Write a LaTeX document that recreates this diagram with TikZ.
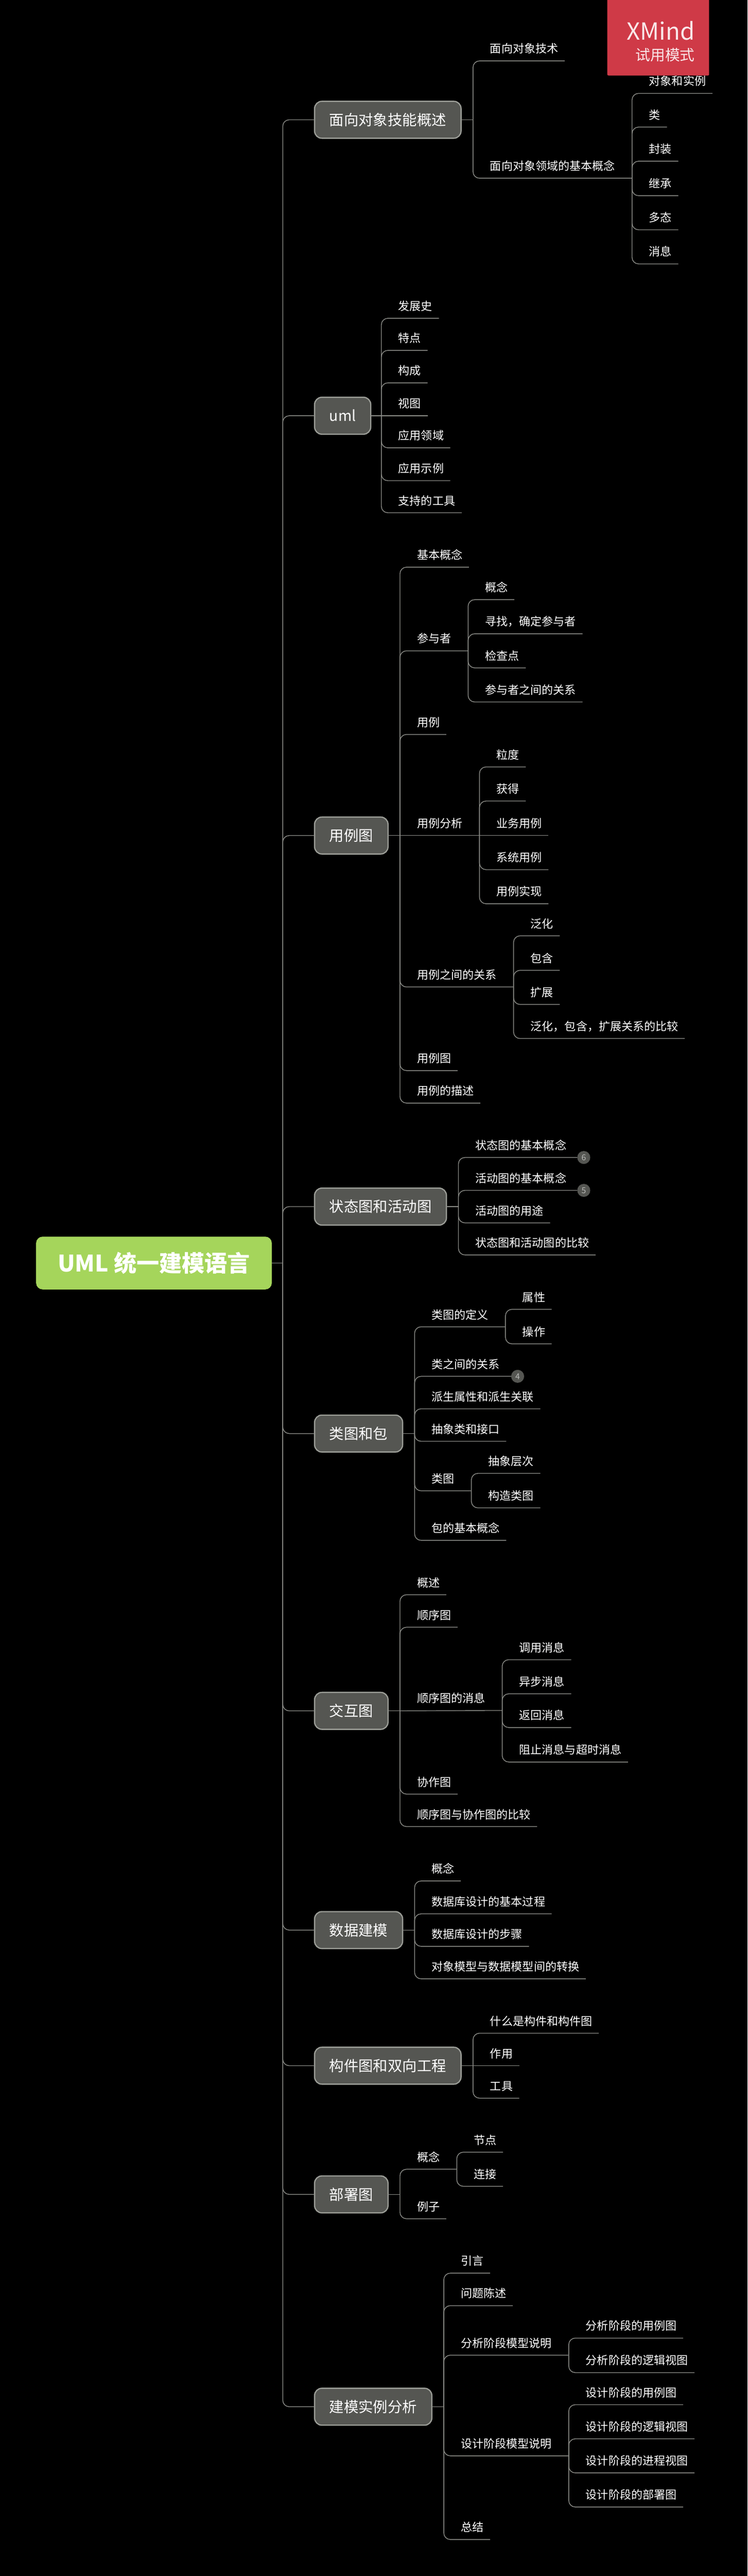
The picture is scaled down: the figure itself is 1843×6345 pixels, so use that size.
\documentclass[tikz,border=0pt]{standalone}
\usepackage{fontspec}
\setmainfont{Noto Sans CJK SC}
\definecolor{canvasbg}{HTML}{000000}
\definecolor{mainfill}{HTML}{555652}
\definecolor{mainedge}{HTML}{9C9E98}
\definecolor{rootfill}{HTML}{A5D55B}
\definecolor{linkgray}{HTML}{8C8D88}
\definecolor{trialred}{HTML}{CF3A47}
\begin{document}
\begin{tikzpicture}[
    x=1pt, y=-1pt,
    rootnode/.style={rectangle, fill=rootfill, draw=none, rounded corners=16pt, anchor=west, minimum width=581pt, minimum height=130pt, outer sep=0pt, text=white, font=\fontsize{56}{60}\selectfont\bfseries, text height=49.3pt, text depth=6.7pt},
    mainnode/.style={rectangle, fill=mainfill, draw=mainedge, line width=3pt, rounded corners=18pt, anchor=west, minimum height=91pt, inner xsep=36.5pt, outer sep=0pt, text=white, font=\fontsize{36}{40}\selectfont, text height=31.7pt, text depth=4.3pt},
    leafnode/.style={rectangle, anchor=south west, inner xsep=16pt, inner ysep=16pt, outer sep=0pt, text=white, font=\fontsize{28}{32}\selectfont, text height=24.6pt, text depth=3.4pt},
    countdot/.style={circle, fill=mainfill, minimum size=32pt, inner sep=0pt, outer sep=0pt, text=linkgray!60!white, font=\fontsize{20}{22}\selectfont},
    link/.style={draw=linkgray, line width=1.8pt, rounded corners=16pt},
    trialtext/.style={anchor=east, inner sep=0pt, text=white!88!trialred}
]
\path[fill=canvasbg, use as bounding box] (0,0) rectangle (1843,6345);

% Root and main branches
\node[rootnode] (root) at (89,3111) {UML 统一建模语言};
\node[mainnode] (oo) at (775.5,295) {面向对象技能概述};
\node[mainnode] (uml) at (775.5,1024) {uml};
\node[mainnode] (usecase) at (775.5,2058) {用例图};
\node[mainnode] (state) at (775.5,2972) {状态图和活动图};
\node[mainnode] (class) at (775.5,3531) {类图和包};
\node[mainnode] (inter) at (775.5,4214) {交互图};
\node[mainnode] (data) at (775.5,4754) {数据建模};
\node[mainnode] (comp) at (775.5,5088) {构件图和双向工程};
\node[mainnode] (deploy) at (775.5,5405) {部署图};
\node[mainnode] (case) at (775.5,5928) {建模实例分析};

% Fork points
\coordinate (ftrunk) at (697,3111);
\coordinate (foo) at (1166,295);
\coordinate (fconcept) at (1558,439);
\coordinate (fuml) at (940,1024);
\coordinate (fusecase) at (986,2058);
\coordinate (factor) at (1154,1603);
\coordinate (fanalysis) at (1182,2058);
\coordinate (frel) at (1266,2431);
\coordinate (fstate) at (1130,2972);
\coordinate (fclass) at (1022,3531);
\coordinate (fdef) at (1246,3268);
\coordinate (fdiagram) at (1162,3672);
\coordinate (finter) at (986,4214);
\coordinate (fmsg) at (1238,4213);
\coordinate (fdata) at (1022,4754);
\coordinate (fcomp) at (1166,5088);
\coordinate (fdeploy) at (986,5405);
\coordinate (fdepconcept) at (1126,5343);
\coordinate (fcase) at (1094,5928);
\coordinate (fana) at (1402,5801);
\coordinate (fdes) at (1402,6049);

% Object oriented overview
\node[leafnode] (ootech) at (1192,150) {面向对象技术};
\node[leafnode] (ooconcept) at (1192,439) {面向对象领域的基本概念};
\node[leafnode] (ooinstance) at (1584,230) {对象和实例};
\node[leafnode] (ooclass) at (1584,313) {类};
\node[leafnode] (oowrap) at (1584,397) {封装};
\node[leafnode] (ooinherit) at (1584,482) {继承};
\node[leafnode] (oopoly) at (1584,566) {多态};
\node[leafnode] (oomsg) at (1584,650) {消息};

% UML
\node[leafnode] (umlhist) at (966,784) {发展史};
\node[leafnode] (umlfeat) at (966,863) {特点};
\node[leafnode] (umlparts) at (966,943) {构成};
\node[leafnode] (umlview) at (966,1024) {视图};
\node[leafnode] (umlfield) at (966,1103) {应用领域};
\node[leafnode] (umlsample) at (966,1184) {应用示例};
\node[leafnode] (umltool) at (966,1263) {支持的工具};

% Use case diagram
\node[leafnode] (ucbasic) at (1012,1397) {基本概念};
\node[leafnode] (ucactor) at (1012,1603) {参与者};
\node[leafnode] (uccase) at (1012,1809) {用例};
\node[leafnode] (ucanalysis) at (1012,2058) {用例分析};
\node[leafnode] (ucrel) at (1012,2431) {用例之间的关系};
\node[leafnode] (ucdiagram) at (1012,2637) {用例图};
\node[leafnode] (ucdesc) at (1012,2717) {用例的描述};
\node[leafnode] (acconcept) at (1180,1477) {概念};
\node[leafnode] (acfind) at (1180,1561) {寻找，确定参与者};
\node[leafnode] (accheck) at (1180,1645) {检查点};
\node[leafnode] (acrel) at (1180,1729) {参与者之间的关系};
\node[leafnode] (angrain) at (1208,1889) {粒度};
\node[leafnode] (anget) at (1208,1973) {获得};
\node[leafnode] (anbiz) at (1208,2058) {业务用例};
\node[leafnode] (ansys) at (1208,2142) {系统用例};
\node[leafnode] (anreal) at (1208,2226) {用例实现};
\node[leafnode] (relgen) at (1292,2305) {泛化};
\node[leafnode] (relinc) at (1292,2390) {包含};
\node[leafnode] (relext) at (1292,2474) {扩展};
\node[leafnode] (relcmp) at (1292,2558) {泛化，包含，扩展关系的比较};

% State and activity diagrams
\node[leafnode] (stbasic) at (1156,2851) {状态图的基本概念};
\node[leafnode] (acbasic) at (1156,2932) {活动图的基本概念};
\node[leafnode] (acuse) at (1156,3012) {活动图的用途};
\node[leafnode] (stcmp) at (1156,3091) {状态图和活动图的比较};
\node[countdot] (dotsix) at (1439,2851) {6};
\node[countdot] (dotfive) at (1439,2932) {5};

% Class diagram and package
\node[leafnode] (cldef) at (1048,3268) {类图的定义};
\node[leafnode] (clrel) at (1048,3390) {类之间的关系};
\node[leafnode] (clderive) at (1048,3470) {派生属性和派生关联};
\node[leafnode] (clabs) at (1048,3550) {抽象类和接口};
\node[leafnode] (cldiagram) at (1048,3672) {类图};
\node[leafnode] (clpack) at (1048,3794) {包的基本概念};
\node[leafnode] (defattr) at (1272,3225) {属性};
\node[leafnode] (defop) at (1272,3310) {操作};
\node[leafnode] (dilevel) at (1188,3629) {抽象层次};
\node[leafnode] (dibuild) at (1188,3714) {构造类图};
\node[countdot] (dotfour) at (1276,3390) {4};

% Interaction diagram
\node[leafnode] (inover) at (1012,3928) {概述};
\node[leafnode] (inseq) at (1012,4008) {顺序图};
\node[leafnode] (inmsg) at (1012,4213) {顺序图的消息};
\node[leafnode] (incol) at (1012,4419) {协作图};
\node[leafnode] (incmp) at (1012,4499) {顺序图与协作图的比较};
\node[leafnode] (msgcall) at (1264,4088) {调用消息};
\node[leafnode] (msgasync) at (1264,4172) {异步消息};
\node[leafnode] (msgret) at (1264,4255) {返回消息};
\node[leafnode] (msgstop) at (1264,4340) {阻止消息与超时消息};

% Data modelling
\node[leafnode] (daconcept) at (1048,4633) {概念};
\node[leafnode] (daproc) at (1048,4714) {数据库设计的基本过程};
\node[leafnode] (dastep) at (1048,4794) {数据库设计的步骤};
\node[leafnode] (daconv) at (1048,4874) {对象模型与数据模型间的转换};

% Component diagram
\node[leafnode] (cowhat) at (1192,5008) {什么是构件和构件图};
\node[leafnode] (couse) at (1192,5088) {作用};
\node[leafnode] (cotool) at (1192,5168) {工具};

% Deployment diagram
\node[leafnode] (deconcept) at (1012,5343) {概念};
\node[leafnode] (desample) at (1012,5465) {例子};
\node[leafnode] (denode) at (1152,5301) {节点};
\node[leafnode] (delink) at (1152,5385) {连接};

% Case study
\node[leafnode] (caintro) at (1120,5599) {引言};
\node[leafnode] (caprob) at (1120,5679) {问题陈述};
\node[leafnode] (caana) at (1120,5801) {分析阶段模型说明};
\node[leafnode] (cades) at (1120,6049) {设计阶段模型说明};
\node[leafnode] (casum) at (1120,6255) {总结};
\node[leafnode] (anauc) at (1428,5759) {分析阶段的用例图};
\node[leafnode] (analog) at (1428,5844) {分析阶段的逻辑视图};
\node[leafnode] (desuc) at (1428,5923) {设计阶段的用例图};
\node[leafnode] (deslog) at (1428,6007) {设计阶段的逻辑视图};
\node[leafnode] (desproc) at (1428,6091) {设计阶段的进程视图};
\node[leafnode] (desdep) at (1428,6175) {设计阶段的部署图};

% Trunk
\draw[link] (root.east) -- (ftrunk);
\draw[link] (ftrunk) |- (oo.west);
\draw[link] (ftrunk) |- (uml.west);
\draw[link] (ftrunk) |- (usecase.west);
\draw[link] (ftrunk) |- (state.west);
\draw[link] (ftrunk) |- (class.west);
\draw[link] (ftrunk) |- (inter.west);
\draw[link] (ftrunk) |- (data.west);
\draw[link] (ftrunk) |- (comp.west);
\draw[link] (ftrunk) |- (deploy.west);
\draw[link] (ftrunk) |- (case.west);

% Links of the branches
\draw[link] (oo.east) -- (foo);
\draw[link] (foo) |- (ootech.south east);
\draw[link] (foo) |- (ooconcept.south east) -- (fconcept);
\draw[link] (fconcept) |- (ooinstance.south east);
\draw[link] (fconcept) |- (ooclass.south east);
\draw[link] (fconcept) |- (oowrap.south east);
\draw[link] (fconcept) |- (ooinherit.south east);
\draw[link] (fconcept) |- (oopoly.south east);
\draw[link] (fconcept) |- (oomsg.south east);

\draw[link] (uml.east) -- (fuml);
\draw[link] (fuml) |- (umlhist.south east);
\draw[link] (fuml) |- (umlfeat.south east);
\draw[link] (fuml) |- (umlparts.south east);
\draw[link] (fuml) -- (umlview.south east);
\draw[link] (fuml) |- (umlfield.south east);
\draw[link] (fuml) |- (umlsample.south east);
\draw[link] (fuml) |- (umltool.south east);

\draw[link] (usecase.east) -- (fusecase);
\draw[link] (fusecase) |- (ucbasic.south east);
\draw[link] (fusecase) |- (ucactor.south east) -- (factor);
\draw[link] (fusecase) |- (uccase.south east);
\draw[link] (fusecase) -- (ucanalysis.south east) -- (fanalysis);
\draw[link] (fusecase) |- (ucrel.south east) -- (frel);
\draw[link] (fusecase) |- (ucdiagram.south east);
\draw[link] (fusecase) |- (ucdesc.south east);
\draw[link] (factor) |- (acconcept.south east);
\draw[link] (factor) |- (acfind.south east);
\draw[link] (factor) |- (accheck.south east);
\draw[link] (factor) |- (acrel.south east);
\draw[link] (fanalysis) |- (angrain.south east);
\draw[link] (fanalysis) |- (anget.south east);
\draw[link] (fanalysis) -- (anbiz.south east);
\draw[link] (fanalysis) |- (ansys.south east);
\draw[link] (fanalysis) |- (anreal.south east);
\draw[link] (frel) |- (relgen.south east);
\draw[link] (frel) |- (relinc.south east);
\draw[link] (frel) |- (relext.south east);
\draw[link] (frel) |- (relcmp.south east);

\draw[link] (state.east) -- (fstate);
\draw[link] (fstate) |- (dotsix.west);
\draw[link] (fstate) |- (dotfive.west);
\draw[link] (fstate) |- (acuse.south east);
\draw[link] (fstate) |- (stcmp.south east);

\draw[link] (class.east) -- (fclass);
\draw[link] (fclass) |- (cldef.south east) -- (fdef);
\draw[link] (fclass) |- (dotfour.west);
\draw[link] (fclass) |- (clderive.south east);
\draw[link] (fclass) |- (clabs.south east);
\draw[link] (fclass) |- (cldiagram.south east) -- (fdiagram);
\draw[link] (fclass) |- (clpack.south east);
\draw[link] (fdef) |- (defattr.south east);
\draw[link] (fdef) |- (defop.south east);
\draw[link] (fdiagram) |- (dilevel.south east);
\draw[link] (fdiagram) |- (dibuild.south east);

\draw[link] (inter.east) -- (finter);
\draw[link] (finter) |- (inover.south east);
\draw[link] (finter) |- (inseq.south east);
\draw[link] (finter) -- (inmsg.south east) -- (fmsg);
\draw[link] (finter) |- (incol.south east);
\draw[link] (finter) |- (incmp.south east);
\draw[link] (fmsg) |- (msgcall.south east);
\draw[link] (fmsg) |- (msgasync.south east);
\draw[link] (fmsg) |- (msgret.south east);
\draw[link] (fmsg) |- (msgstop.south east);

\draw[link] (data.east) -- (fdata);
\draw[link] (fdata) |- (daconcept.south east);
\draw[link] (fdata) |- (daproc.south east);
\draw[link] (fdata) |- (dastep.south east);
\draw[link] (fdata) |- (daconv.south east);

\draw[link] (comp.east) -- (fcomp);
\draw[link] (fcomp) |- (cowhat.south east);
\draw[link] (fcomp) -- (couse.south east);
\draw[link] (fcomp) |- (cotool.south east);

\draw[link] (deploy.east) -- (fdeploy);
\draw[link] (fdeploy) |- (deconcept.south east) -- (fdepconcept);
\draw[link] (fdeploy) |- (desample.south east);
\draw[link] (fdepconcept) |- (denode.south east);
\draw[link] (fdepconcept) |- (delink.south east);

\draw[link] (case.east) -- (fcase);
\draw[link] (fcase) |- (caintro.south east);
\draw[link] (fcase) |- (caprob.south east);
\draw[link] (fcase) |- (caana.south east) -- (fana);
\draw[link] (fcase) |- (cades.south east) -- (fdes);
\draw[link] (fcase) |- (casum.south east);
\draw[link] (fana) |- (anauc.south east);
\draw[link] (fana) |- (analog.south east);
\draw[link] (fdes) |- (desuc.south east);
\draw[link] (fdes) |- (deslog.south east);
\draw[link] (fdes) |- (desproc.south east);
\draw[link] (fdes) |- (desdep.south east);

% Trial badge
\fill[trialred, rounded corners=3pt] (1497,-10) rectangle (1748,186);
\node[trialtext, font=\fontsize{58}{60}\selectfont] (xmindmark) at (1713,76) {XMind};
\node[trialtext, font=\fontsize{36.5}{40}\selectfont] (trialmark) at (1713,135) {试用模式};

\end{tikzpicture}
\end{document}
